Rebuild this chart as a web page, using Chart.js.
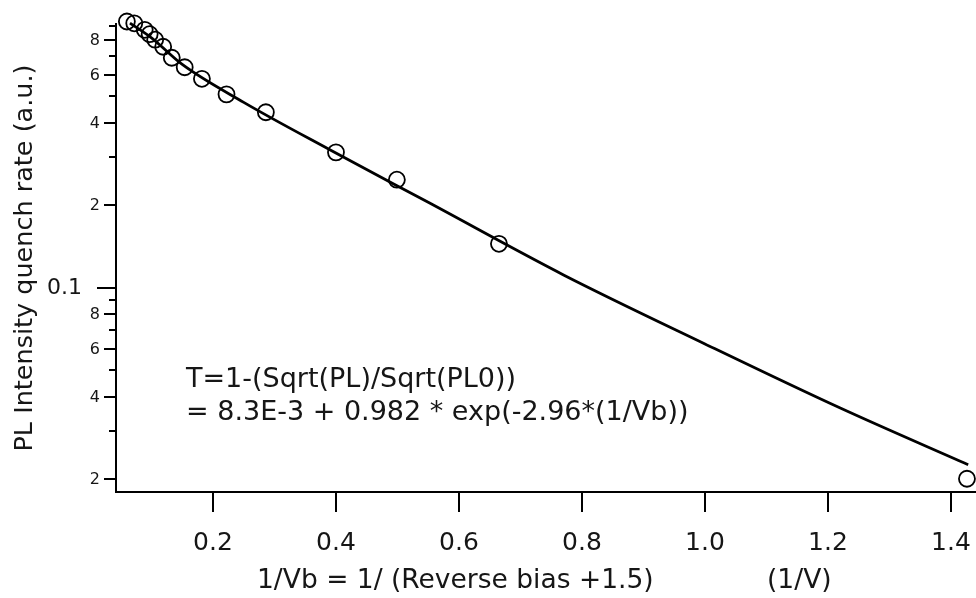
<!DOCTYPE html>
<html>
<head>
<meta charset="utf-8">
<script src="https://cdn.jsdelivr.net/npm/chart.js@4/dist/chart.umd.min.js"></script>
<style>
  html, body { margin: 0; padding: 0; background: #fff; }
</style>
</head>
<body>
<canvas id="chart" width="976" height="598"></canvas>
<script>
// measured points (open circles)
const pointX = [0.060, 0.072, 0.089, 0.097, 0.106, 0.119, 0.133, 0.154, 0.182, 0.222, 0.286, 0.400, 0.499, 0.665, 1.426];
const pointY = [0.937, 0.923, 0.874, 0.842, 0.804, 0.758, 0.691, 0.638, 0.579, 0.508, 0.437, 0.312, 0.248, 0.1447, 0.0201];

// fitted curve
const fitX = [0.065, 0.100, 0.150, 0.250, 0.390, 0.550, 0.770, 1.000, 1.220, 1.428];
const fitY = [0.925, 0.817, 0.653, 0.475, 0.319, 0.205, 0.1114, 0.0624, 0.0364, 0.0226];

const xTicks = [0.2, 0.4, 0.6, 0.8, 1.0, 1.2, 1.4];
const yTicks = [0.02, 0.03, 0.04, 0.05, 0.06, 0.07, 0.08, 0.09, 0.1, 0.2, 0.3, 0.4, 0.5, 0.6, 0.7, 0.8, 0.9];
const yTickLabels = ["2", "", "4", "", "6", "", "8", "", "0.1", "2", "", "4", "", "6", "", "8", ""];

const xTitle = "1/Vb = 1/ (Reverse bias +1.5)";
const xUnit = "(1/V)";
const yTitle = "PL Intensity quench rate (a.u.)";
const noteLines = ["T=1-(Sqrt(PL)/Sqrt(PL0))", "= 8.3E-3 + 0.982 * exp(-2.96*(1/Vb))"];

const FONT = '"DejaVu Sans", Verdana, sans-serif';
const INK = "#161616";

// tick marks, y tick labels, formula and x title
const decorPlugin = {
  id: "decor",
  afterDraw(chart) {
    const { ctx, chartArea, scales } = chart;
    const xs = scales.x, ys = scales.y;
    ctx.save();
    ctx.strokeStyle = "#000";
    ctx.lineWidth = 2;
    ctx.fillStyle = INK;

    xTicks.forEach((v) => {
      const px = Math.round(xs.getPixelForValue(v));
      ctx.beginPath();
      ctx.moveTo(px, chartArea.bottom);
      ctx.lineTo(px, chartArea.bottom + 20);
      ctx.stroke();
    });

    ctx.textAlign = "right";
    ctx.textBaseline = "middle";
    yTicks.forEach((v, i) => {
      const py = Math.round(ys.getPixelForValue(v));
      const lab = yTickLabels[i];
      const len = lab === "0.1" ? 19 : (lab ? 12 : 7);
      ctx.beginPath();
      ctx.moveTo(chartArea.left, py);
      ctx.lineTo(chartArea.left - len, py);
      ctx.stroke();
      if (lab === "0.1") {
        ctx.font = "22px " + FONT;
        ctx.fillText(lab, 82, py);
      } else if (lab) {
        ctx.font = "16px " + FONT;
        ctx.fillText(lab, 100, py + 1);
      }
    });

    ctx.textAlign = "left";
    ctx.textBaseline = "alphabetic";
    ctx.font = "27px " + FONT;
    ctx.fillText(noteLines[0], 186, 387);
    ctx.fillText(noteLines[1], 186, 420);

    ctx.font = "26.5px " + FONT;
    ctx.fillText(xTitle, 257, 588);
    ctx.fillText(xUnit, 767, 588);
    ctx.restore();
  }
};

new Chart(document.getElementById("chart"), {
  type: "scatter",
  data: {
    datasets: [
      {
        label: "fit",
        data: fitX.map((x, i) => ({ x, y: fitY[i] })),
        showLine: true,
        borderColor: "#000",
        borderWidth: 2.8,
        pointRadius: 0,
        cubicInterpolationMode: "monotone",
        clip: false
      },
      {
        label: "data",
        data: pointX.map((x, i) => ({ x, y: pointY[i] })),
        pointRadius: 8,
        pointBorderWidth: 1.8,
        pointBorderColor: "#000",
        pointBackgroundColor: "rgba(0,0,0,0)",
        clip: false
      }
    ]
  },
  options: {
    responsive: false,
    animation: false,
    layout: { autoPadding: false, padding: { top: 24, right: 0, left: 0, bottom: 0 } },
    plugins: { legend: { display: false }, tooltip: { enabled: false } },
    scales: {
      x: {
        type: "linear",
        min: 0.0423,
        max: 1.4407,
        afterBuildTicks: (s) => { s.ticks = xTicks.map((v) => ({ value: v })); },
        afterFit: (s) => { s.height = 106; s.paddingLeft = 0; s.paddingRight = 0; },
        ticks: {
          callback: (v) => Number(v).toFixed(1),
          font: { family: FONT, size: 25 },
          color: INK,
          padding: 36,
          maxRotation: 0,
          autoSkip: false
        },
        grid: { display: false, drawTicks: false },
        border: { display: true, color: "#000", width: 2 }
      },
      y: {
        type: "logarithmic",
        min: 0.01798,
        max: 0.9175,
        afterFit: (s) => { s.width = 116; s.paddingTop = 0; s.paddingBottom = 0; },
        ticks: { display: false },
        grid: { display: false, drawTicks: false },
        border: { display: true, color: "#000", width: 2 },
        title: {
          display: true,
          text: yTitle,
          font: { family: FONT, size: 25.5 },
          color: INK,
          padding: { top: 10, bottom: 0 }
        }
      }
    }
  },
  plugins: [decorPlugin]
});
</script>
</body>
</html>
